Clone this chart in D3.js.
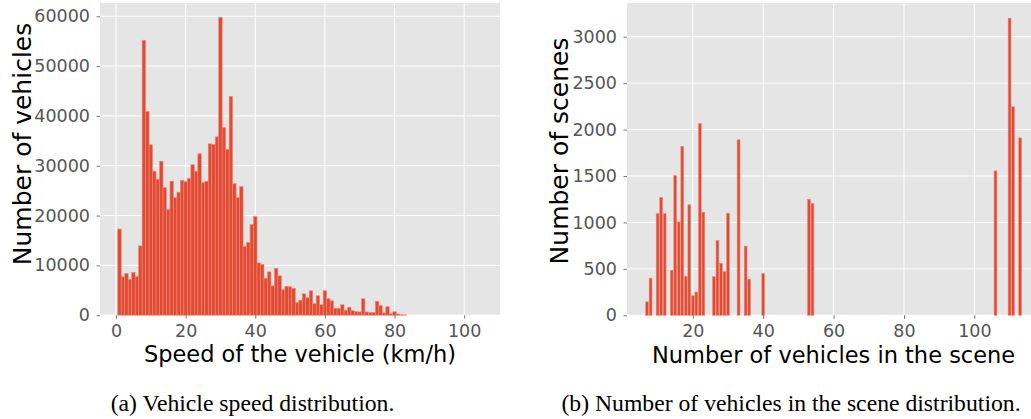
<!DOCTYPE html>
<html>
<head>
<meta charset="utf-8">
<script src="https://cdn.jsdelivr.net/npm/d3@7"></script>
<style>
  body { margin: 0; background: #fff; }
  svg { display: block; }
  .tick text { font-family: "DejaVu Sans", sans-serif; }
</style>
</head>
<body>
<svg id="chart" width="1031" height="419"></svg>
<script>
// (a) speed histogram: bin centres (km/h) and counts
var speedBins = [1,2,3,4,5,6,7,8,9,10,11,12,13,14,15,16,17,18,19,20,
  21,22,23,24,25,26,27,28,29,30,31,32,33,34,35,36,37,38,39,40,
  41,42,43,44,45,46,47,48,49,50,51,52,53,54,55,56,57,58,59,60,
  61,62,63,64,65,66,67,68,69,70,71,72,73,74,75,76,77,78,79,80,81,82,83];
var speedCounts = [17300,7700,8400,7200,8600,7800,13900,55200,40900,34200,
  28900,27300,30900,25600,21200,26900,23600,24700,27100,26800,
  27500,30200,28900,32400,26600,26900,34400,34300,35800,59800,
  37700,33300,43900,26400,23600,25800,13800,14600,18200,19800,
  10500,10200,7400,8700,5900,9400,7900,5100,5800,5700,
  5400,2500,3000,4300,3500,4900,2300,3900,2100,4900,
  3300,2900,1400,1400,2100,1000,1600,900,750,650,
  3300,650,550,550,2800,1900,450,1700,300,700,250,100,60];
var speedTicksX = [0,20,40,60,80,100];
var speedTicksY = [0,10000,20000,30000,40000,50000,60000];

// (b) vehicles per scene
var vehiclesInScene = [7,8,10,11,12,14,15,16,17,18,19,20,21,22,23,26,27,28,29,30,
  33,35,36,40,53,54,106,110,111,113];
var sceneCounts = [145,400,1095,1270,1095,485,1505,1005,1820,420,1190,210,250,2065,1110,
  415,805,560,470,1100,1890,745,390,450,1250,1205,1555,3200,2245,1910];
var sceneTicksX = [20,40,60,80,100];
var sceneTicksY = [0,500,1000,1500,2000,2500,3000];

var svg = d3.select("#chart");
svg.append("rect").attr("width", 1031).attr("height", 419).attr("fill", "#fff");

var barColor = "#E24A33";

function drawPanel(p) {
  var g = svg.append("g");
  var x = d3.scaleLinear().domain(p.xDomain).range([p.left, p.right]);
  var y = d3.scaleLinear().domain(p.yDomain).range([p.bottom, p.top]);

  g.append("rect")
    .attr("x", p.left).attr("y", p.top)
    .attr("width", p.right - p.left).attr("height", p.bottom - p.top)
    .attr("fill", "#E5E5E5");

  g.selectAll(".vgrid").data(p.xTicks).enter().append("line")
    .attr("x1", function(d) { return x(d); }).attr("x2", function(d) { return x(d); })
    .attr("y1", p.top).attr("y2", p.bottom)
    .attr("stroke", "#fff").attr("stroke-width", 1);
  g.selectAll(".hgrid").data(p.yTicks).enter().append("line")
    .attr("x1", p.left).attr("x2", p.right)
    .attr("y1", function(d) { return y(d); }).attr("y2", function(d) { return y(d); })
    .attr("stroke", "#fff").attr("stroke-width", 1);

  g.selectAll(".bar").data(p.xs).enter().append("rect")
    .attr("x", function(d) { return x(d - p.half); })
    .attr("width", function(d) { return x(d + p.half) - x(d - p.half); })
    .attr("y", function(d, i) { return y(p.ys[i]); })
    .attr("height", function(d, i) { return y(0) - y(p.ys[i]); })
    .attr("fill", barColor)
    .attr("stroke", "#EE8A78").attr("stroke-width", 0.6);

  var ax = g.append("g").attr("transform", "translate(0," + p.bottom + ")")
    .call(d3.axisBottom(x).tickValues(p.xTicks).tickSize(3.5).tickSizeOuter(0).tickPadding(5.5));
  var ay = g.append("g").attr("transform", "translate(" + p.left + ",0)")
    .call(d3.axisLeft(y).tickValues(p.yTicks).tickSize(3.5).tickSizeOuter(0).tickPadding(6.5)
      .tickFormat(d3.format("d")));
  [ax, ay].forEach(function(a) {
    a.select(".domain").remove();
    a.selectAll(".tick line").attr("stroke", "#555").attr("stroke-width", 0.8);
    a.selectAll(".tick text").attr("fill", "#555").style("font-size", "17.5px");
  });

  g.append("text")
    .attr("x", (p.left + p.right) / 2).attr("y", p.xLabelY)
    .attr("text-anchor", "middle")
    .style("font-family", "DejaVu Sans, sans-serif").style("font-size", "22.5px")
    .attr("fill", "#000").text(p.xLabel);

  g.append("text")
    .attr("transform", "translate(" + p.yLabelX + "," + p.yLabelMid + ") rotate(-90)")
    .attr("text-anchor", "middle")
    .style("font-family", "DejaVu Sans, sans-serif").style("font-size", "25px")
    .attr("fill", "#000").text(p.yLabel);

  g.append("text")
    .attr("x", p.captionX).attr("y", 411)
    .attr("text-anchor", "middle")
    .style("font-family", "Liberation Serif, Times New Roman, serif").style("font-size", "23.7px")
    .attr("fill", "#000").text(p.caption);
}

drawPanel({
  xs: speedBins, ys: speedCounts, half: 0.5,
  xDomain: [-4.6, 110.3], yDomain: [0, 62670],
  left: 100, right: 500, top: 3, bottom: 315.2,
  xTicks: speedTicksX, yTicks: speedTicksY,
  xLabel: "Speed of the vehicle (km/h)", xLabelY: 362,
  yLabel: "Number of vehicles", yLabelX: 31, yLabelMid: 144,
  caption: "(a) Vehicle speed distribution.", captionX: 252.5
});

drawPanel({
  xs: vehiclesInScene, ys: sceneCounts, half: 0.4,
  xDomain: [1.3, 118.7], yDomain: [0, 3363],
  left: 627, right: 1040.2, top: 3, bottom: 315.3,
  xTicks: sceneTicksX, yTicks: sceneTicksY,
  xLabel: "Number of vehicles in the scene", xLabelY: 363,
  yLabel: "Number of scenes", yLabelX: 568, yLabelMid: 151,
  caption: "(b) Number of vehicles in the scene distribution.", captionX: 791
});
</script>
</body>
</html>
